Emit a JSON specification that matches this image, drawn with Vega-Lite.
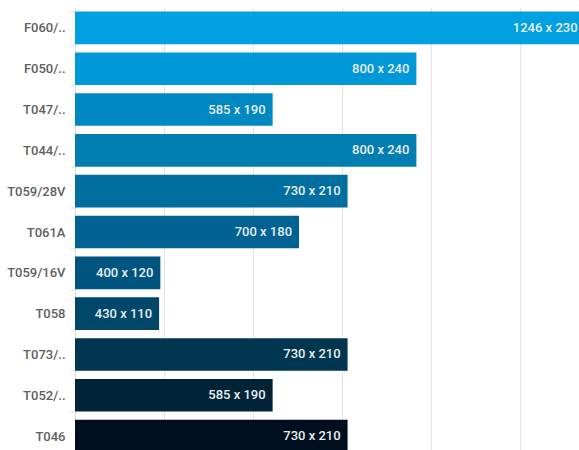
{
  "$schema": "https://vega.github.io/schema/vega-lite/v6.json",
  "width": 504,
  "height": 449,
  "autosize": {"type": "none"},
  "padding": {"left": 75, "top": 7.5, "right": 0, "bottom": 0},
  "background": "white",
  "config": {"view": {"stroke": null}, "font": "Roboto"},
  "data": {
    "values": [
      {"model": "F060/..", "area": 286580, "label": "1246 x 230"},
      {"model": "F050/..", "area": 192000, "label": "800 x 240"},
      {"model": "T047/..", "area": 111150, "label": "585 x 190"},
      {"model": "T044/..", "area": 192000, "label": "800 x 240"},
      {"model": "T059/28V", "area": 153300, "label": "730 x 210"},
      {"model": "T061A", "area": 126000, "label": "700 x 180"},
      {"model": "T059/16V", "area": 48000, "label": "400 x 120"},
      {"model": "T058", "area": 47300, "label": "430 x 110"},
      {"model": "T073/..", "area": 153300, "label": "730 x 210"},
      {"model": "T052/..", "area": 111150, "label": "585 x 190"},
      {"model": "T046", "area": 153300, "label": "730 x 210"}
    ]
  },
  "encoding": {
    "y": {
      "field": "model",
      "type": "nominal",
      "sort": null,
      "scale": {"paddingInner": 0.2, "paddingOuter": 0.1},
      "axis": {
        "title": null,
        "tickBand": "extent",
        "domainColor": "#dddddd",
        "tickColor": "#dddddd",
        "tickSize": 5,
        "labelPadding": 5,
        "labelFont": "Roboto",
        "labelFontSize": 13,
        "labelFontWeight": 500,
        "labelColor": "#606060"
      }
    },
    "x": {
      "field": "area",
      "type": "quantitative",
      "scale": {"domain": [0, 283450], "nice": false},
      "axis": {
        "title": null,
        "values": [0, 50000, 100000, 150000, 200000, 250000],
        "labels": false,
        "ticks": false,
        "domain": false,
        "gridColor": "#e2e2e2",
        "orient": "bottom"
      }
    }
  },
  "layer": [
    {
      "mark": {"type": "bar"},
      "encoding": {
        "color": {
          "field": "model",
          "type": "nominal",
          "sort": null,
          "scale": {
            "domain": ["F060/..", "F050/..", "T047/..", "T044/..", "T059/28V", "T061A", "T059/16V", "T058", "T073/..", "T052/..", "T046"],
            "range": ["#00a0e1", "#0098d8", "#0088c2", "#007db1", "#006fa0", "#006292", "#005580", "#00476a", "#00364f", "#002338", "#000f1f"]
          },
          "legend": null
        }
      }
    },
    {
      "mark": {"type": "text", "align": "right", "dx": -7, "color": "#e8eef2", "font": "Roboto", "fontSize": 13, "fontWeight": 500},
      "encoding": {"text": {"field": "label"}}
    }
  ]
}
